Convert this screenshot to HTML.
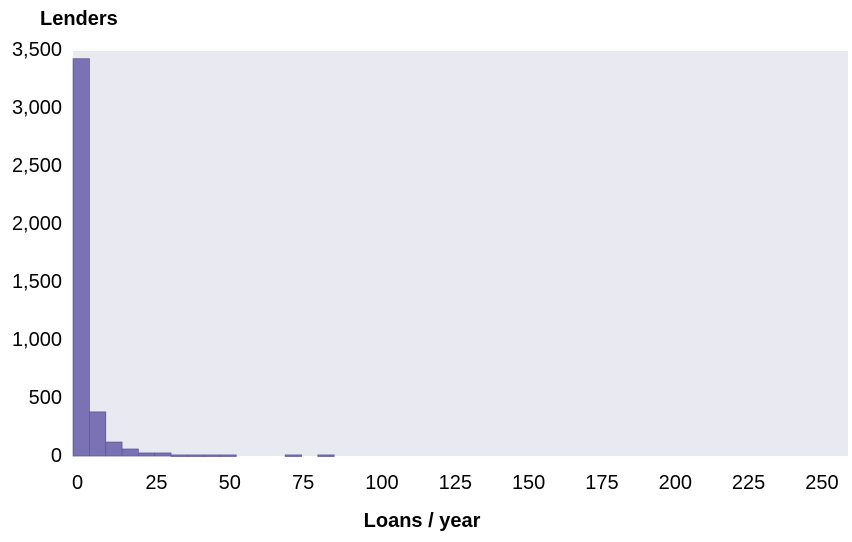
<!DOCTYPE html>
<html><head><meta charset="utf-8"><style>
body{margin:0;background:#fff;}
svg text{font-family:"Liberation Sans",sans-serif;fill:#000;}
</style></head><body>
<svg id="c" width="852" height="537">
<rect x="73" y="51" width="775" height="405" fill="#e9e9f2"/>
<text x="40" y="25" font-size="20" font-weight="bold">Lenders</text>
<text x="422" y="527" font-size="20" font-weight="bold" text-anchor="middle">Loans / year</text>
<g id="bars"></g><g id="yt"></g><g id="xt"></g>
</svg>
<script>
const binStarts=[-3.2,2.35,7.9,13.45,19,24.55,30.1,35.65,41.2,46.75,52.3,57.85,63.4,68.95,74.5,80.05];
const binCounts=[3425,380,120,60,26,26,9,9,9,9,0,0,0,9,0,9];
const yTicks=[0,500,1000,1500,2000,2500,3000,3500];
const yLabels=["0","500","1,000","1,500","2,000","2,500","3,000","3,500"];
const xTicks=[0,25,50,75,100,125,150,175,200,225,250];
const binW=5.55;
const NS="http://www.w3.org/2000/svg";
const x=v=>82.5+2.94*v;
const xl=v=>72+2.933*v;
const y=v=>456-v*406/3500;
const bars=document.getElementById('bars');
binCounts.forEach((c,i)=>{
  if(!c)return;
  const r=document.createElementNS(NS,'rect');
  
  
  const x0=x(binStarts[i]),x1=x(binStarts[i]+binW);
  r.setAttribute('x',x0);r.setAttribute('width',x1-x0);
  r.setAttribute('y',y(c));r.setAttribute('height',Math.max(456-y(c),1.5));
  r.setAttribute('fill','#7a72b5');r.setAttribute('stroke','#5e579c');r.setAttribute('stroke-width','0.8');
  bars.appendChild(r);
});
const yt=document.getElementById('yt');
yTicks.forEach((v,i)=>{
  const t=document.createElementNS(NS,'text');
  
  
  t.setAttribute('x',62);t.setAttribute('y',y(v)+6);t.setAttribute('text-anchor','end');t.setAttribute('font-size','20');
  t.textContent=yLabels[i];yt.appendChild(t);
});
const xt=document.getElementById('xt');
xTicks.forEach(v=>{
  const t=document.createElementNS(NS,'text');
  
  
  t.setAttribute('x',xl(v));t.setAttribute('y',489);t.setAttribute('text-anchor','start');t.setAttribute('font-size','20');
  t.textContent=v;xt.appendChild(t);
});
</script>
</body></html>
